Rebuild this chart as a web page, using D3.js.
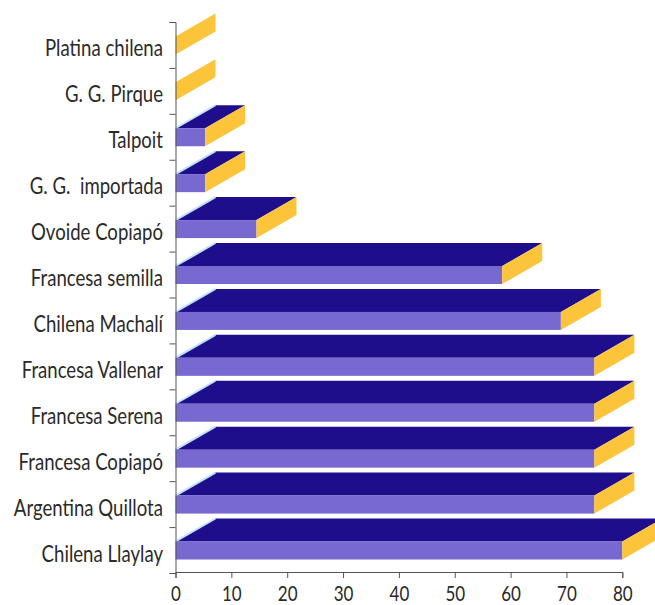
<!DOCTYPE html>
<html>
<head>
<meta charset="utf-8">
<script src="https://cdn.jsdelivr.net/npm/d3@7"></script>
<style>
  html, body { margin: 0; padding: 0; background: #ffffff; }
  svg { display: block; }
  text { font-family: Lato, "Open Sans", sans-serif; fill: #2a2a2a; }
</style>
</head>
<body>
<svg id="chart" width="655" height="605"></svg>
<script>
// Varieties, top to bottom
const categories = [
  "Platina chilena",
  "G. G. Pirque",
  "Talpoit",
  "G. G.  importada",
  "Ovoide Copiapó",
  "Francesa semilla",
  "Chilena Machalí",
  "Francesa Vallenar",
  "Francesa Serena",
  "Francesa Copiapó",
  "Argentina Quillota",
  "Chilena Llaylay"
];
const values = [0, 0, 5.3, 5.3, 14.5, 58.5, 69, 75, 75, 75, 75, 80];
const xTicks = [0, 10, 20, 30, 40, 50, 60, 70, 80];

const svg = d3.select("#chart");

const x = d3.scaleLinear().domain([0, 80]).range([175.5, 622.3]);
const y = d3.scaleBand().domain(categories).range([22, 573]).paddingInner(0).paddingOuter(0);

// 3D extrusion geometry
const depthX = 40, depthY = 23;
const faceH = 18;
const bottomGap = 13.5;
const textScale = 1.25;

const colFront = "#7769d0";
const colTop = "#1f0e8b";
const colEnd = "#fbc43a";

const data = categories.map((c, i) => ({ cat: c, v: values[i] }));

const bars = svg.append("g").attr("class", "bars");

data.forEach(d => {
  const x0 = x(0), x1 = x(d.v);
  const yb = y(d.cat) + y.bandwidth() - bottomGap; // bottom of front face
  const yf = yb - faceH;                            // top of front face
  const g = bars.append("g");

  if (x1 > x0) {
    // top face
    g.append("path")
      .attr("d", `M${x0},${yf}L${x0 + depthX},${yf - depthY}L${x1 + depthX},${yf - depthY}L${x1},${yf}Z`)
      .attr("fill", colTop);
    // pale highlight on the slanted left edge
    g.append("path")
      .attr("d", `M${x0},${yf}L${x0 + depthX},${yf - depthY}`)
      .attr("stroke", "#bfe2f4")
      .attr("stroke-width", 2)
      .attr("fill", "none");
    // front face
    g.append("rect")
      .attr("x", x0).attr("y", yf)
      .attr("width", x1 - x0).attr("height", faceH)
      .attr("fill", colFront);
  }
  // end face
  g.append("path")
    .attr("d", `M${x1},${yf}L${x1 + depthX},${yf - depthY}L${x1 + depthX},${yb - depthY}L${x1},${yb}Z`)
    .attr("fill", colEnd);
});

// X axis
const xAxis = svg.append("g")
  .attr("transform", `translate(0,${572})`)
  .call(d3.axisBottom(x).tickValues(xTicks).tickSize(6).tickSizeOuter(6).tickFormat(d3.format("d")));
xAxis.selectAll("path, line").attr("stroke", "#555");
xAxis.selectAll("text")
  .attr("y", 11)
  .attr("font-size", 17)
  .attr("transform", `scale(1,${textScale})`)
  .style("font-family", "Lato, 'Open Sans', sans-serif")
  .style("fill", "#2a2a2a");

// Y axis: ticks on category boundaries
const yEdge = d3.scaleLinear().domain([0, categories.length]).range([573, 22]);
const yAxis = svg.append("g")
  .attr("transform", `translate(${x(0)},0)`)
  .call(d3.axisLeft(yEdge).ticks(categories.length).tickSize(6).tickSizeOuter(6).tickFormat(""));
yAxis.selectAll("path, line").attr("stroke", "#555");

// Category labels
svg.append("g").selectAll("text")
  .data(data)
  .join("text")
  .attr("transform", d => `translate(163,${(y(d.cat) + y.bandwidth() - 11.5)}) scale(1,${textScale})`)
  .attr("text-anchor", "end")
  .attr("font-size", 18.6)
  .style("white-space", "pre")
  .text(d => d.cat);
</script>
</body>
</html>
